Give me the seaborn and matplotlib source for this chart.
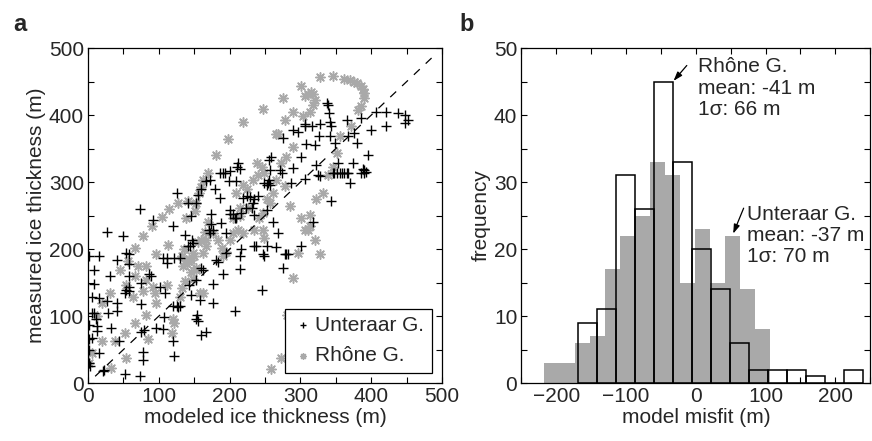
import numpy as np
import pandas as pd
import matplotlib
matplotlib.use('Agg')
import matplotlib.pyplot as plt
from matplotlib.ticker import MultipleLocator
import seaborn as sns

sns.set_style('white')
plt.rcParams['font.family'] = ['Liberation Sans', 'DejaVu Sans']
plt.rcParams['font.size'] = 15

# --- panel a: measured vs modeled ice thickness ---
unter_x = [2, 16, 9, 8, 6, 6, 8, 11, 2, 2, 5, 13, 12, 1, 2, 3, 16, 21, 23,
           16, 27, 27, 31, 28, 32, 41, 41, 41, 49, 53, 58, 58, 58, 58, 54, 58, 52,
           44, 52, 73, 77, 77, 73, 86, 89, 92, 75, 75, 75, 79, 96, 106, 107, 108,
           101, 106, 111, 111, 120, 120, 122, 120, 125, 130, 127, 125, 122, 130,
           137, 141, 144, 145, 141, 153, 155, 148, 147, 142, 145, 153, 154, 155,
           153, 158, 160, 166, 160, 162, 160, 166, 172, 173, 173, 171, 172, 177,
           179, 177, 177, 181, 183, 186, 186, 188, 190, 195, 195, 191, 194, 199,
           200, 200, 204, 207, 209, 200, 207, 209, 212, 211, 214, 214, 214, 216,
           219, 216, 223, 224, 229, 231, 233, 234, 235, 235, 237, 240, 245, 247,
           249, 252, 248, 252, 254, 257, 256, 257, 256, 259, 252, 261, 266, 268,
           271, 275, 274, 278, 280, 283, 275, 286, 290, 290, 297, 301, 301, 306,
           306, 307, 308, 316, 318, 321, 322, 325, 327, 326, 328, 337, 339, 340,
           341, 343, 341, 343, 346, 348, 349, 351, 353, 356, 358, 362, 365, 367,
           370, 367, 365, 376, 380, 374, 386, 388, 390, 390, 393, 386, 395, 400,
           407, 421, 421, 438, 447, 447, 452]
unter_y = [189, 190, 168, 148, 129, 104, 104, 95, 87, 65, 67, 85, 77, 50, 30, 26, 45, 18, 19,
           127, 123, 225, 159, 104, 82, 107, 119, 183, 220, 194, 193, 177, 159, 144, 139, 137, 134,
           62, 14, 11, 47, 35, 260, 163, 160, 244, 149, 118, 76, 79, 82, 80, 99, 134,
           143, 187, 179, 187, 234, 62, 40, 115, 115, 115, 114, 284, 186, 186,
           221, 204, 204, 249, 268, 268, 281, 209, 213, 147, 132, 154, 102, 92,
           95, 124, 71, 76, 172, 168, 289, 301, 303, 252, 237, 229, 224, 229,
           289, 119, 148, 184, 181, 276, 313, 239, 162, 224, 194, 313, 313, 301,
           259, 252, 252, 246, 247, 317, 107, 301, 329, 323, 319, 189, 170, 200,
           276, 254, 261, 279, 278, 261, 269, 251, 274, 204, 205, 279, 139, 192,
           189, 204, 298, 295, 298, 295, 303, 318, 333, 338, 259, 241, 203, 224,
           318, 366, 313, 192, 192, 192, 172, 298, 321, 378, 374, 204, 338, 383,
           386, 304, 357, 383, 241, 356, 326, 311, 309, 368, 387, 418, 415, 403,
           389, 383, 368, 271, 313, 313, 358, 313, 328, 313, 313, 313, 313, 313,
           298, 368, 393, 373, 358, 328, 313, 320, 318, 313, 315, 396, 341, 378,
           405, 405, 383, 403, 400, 388, 393]

rhone_x = [327, 346, 361, 370, 375, 380, 385, 388, 389, 389, 386, 381, 301, 306, 311,
           315, 318, 320, 318, 313, 304, 275, 247, 290, 278, 268, 219, 197, 180, 170,
           163, 160, 157, 153, 151, 141, 139, 127, 115, 104, 90, 78, 66, 56, 45, 31,
           20, 12, 2, 6, 20, 33, 53, 52, 38, 66, 82, 85, 96, 94, 92, 82, 82, 78, 64,
           54, 66, 71, 96, 111, 113, 120, 122, 118, 132, 134, 137, 132, 130, 139,
           146, 148, 153, 158, 162, 163, 167, 160, 167, 177, 183, 191, 189, 195,
           200, 205, 212, 219, 205, 214, 214, 209, 219, 224, 226, 233, 240, 238,
           245, 249, 252, 247, 247, 257, 249, 235, 242, 261, 266, 273, 278, 285,
           290, 280, 266, 290, 281, 273, 259, 297, 301, 306, 311, 313, 320, 327,
           313, 322, 332, 339, 346, 351, 356, 372, 140, 145, 150, 135, 143, 155,
           148, 152, 165, 170]
rhone_y = [457, 459, 454, 453, 450, 448, 444, 439, 433, 425, 413, 408, 444, 428, 432,
           434, 431, 423, 415, 405, 398, 425, 409, 405, 393, 371, 389, 364, 341, 314,
           303, 293, 283, 268, 257, 272, 246, 269, 260, 248, 234, 220, 201, 182, 169, 134,
           120, 100, 30, 45, 62, 22, 37, 75, 62, 90, 102, 66, 119, 134, 144, 174, 154, 137, 129,
           147, 159, 174, 192, 147, 206, 95, 90, 75, 189, 174, 152, 142, 129, 184,
           184, 194, 169, 134, 134, 194, 204, 214, 214, 224, 214, 189, 201, 196,
           214, 224, 229, 224, 246, 249, 261, 284, 296, 289, 261, 303, 311, 328,
           323, 313, 274, 254, 229, 269, 216, 229, 246, 284, 303, 328, 294, 264,
           353, 338, 371, 157, 102, 37, 21, 194, 246, 229, 229, 234, 214, 192,
           251, 274, 284, 311, 323, 343, 368, 383, 178, 165, 190, 200, 185, 210,
           155, 172, 225, 240]

# --- panel b: misfit histograms (counts per bin) ---
rhone_edges = np.linspace(-169, 239, 16)
rhone_counts = [9, 11, 31, 26, 45, 33, 20, 14, 6, 2, 2, 2, 1, 0, 2]
unter_edges = np.linspace(-217, 106, 16)
unter_counts = [3, 3, 6, 7, 17, 22, 25, 33, 31, 15, 23, 15, 22, 14, 8]

df_u = pd.DataFrame({'x': unter_x, 'y': unter_y})
df_r = pd.DataFrame({'x': rhone_x, 'y': rhone_y})
df_hu = pd.DataFrame({'mid': (unter_edges[:-1] + unter_edges[1:]) / 2, 'n': unter_counts})
df_hr = pd.DataFrame({'mid': (rhone_edges[:-1] + rhone_edges[1:]) / 2, 'n': rhone_counts})

fig = plt.figure(figsize=(8.72, 4.41), dpi=100)
ax1 = fig.add_axes([0.101, 0.1315, 0.406, 0.7595])
ax2 = fig.add_axes([0.598, 0.1315, 0.400, 0.7595])

gray = '#a9a9a9'

# scatter
sns.scatterplot(data=df_u, x='x', y='y', marker='+', color='k', s=50,
                linewidth=1.0, label='Unteraar G.', ax=ax1, zorder=3)
sns.scatterplot(data=df_r, x='x', y='y', marker=(8, 2, 0), color=gray, s=45,
                linewidth=1.1, label='Rhône G.', ax=ax1, zorder=2)
ax1.plot([10, 490], [10, 490], color='k', lw=0.9, dashes=(6.5, 6.5), zorder=4)
ax1.set_xlim(0, 500)
ax1.set_ylim(0, 500)
ax1.set_xlabel('modeled ice thickness (m)', labelpad=1)
ax1.set_ylabel('measured ice thickness (m)', labelpad=2)
leg = ax1.legend(loc='lower right', fancybox=False, framealpha=1, edgecolor='k',
                 markerscale=0.6, handletextpad=0.1, borderpad=0.35,
                 labelspacing=0.55, borderaxespad=0.5, handlelength=1.0,
                 fontsize=15)
leg.get_frame().set_linewidth(0.9)

# histograms
sns.histplot(data=df_hu, x='mid', weights='n', bins=list(unter_edges), color=gray,
             alpha=1, linewidth=0, element='bars', ax=ax2)
sns.histplot(data=df_hr, x='mid', weights='n', bins=list(rhone_edges), fill=False,
             color='k', linewidth=1.1, element='bars', ax=ax2)
ax2.set_xlim(-250, 250)
ax2.set_ylim(0, 50)
ax2.set_xlabel('model misfit (m)', labelpad=1)
ax2.set_ylabel('frequency', labelpad=2)

arrow = dict(arrowstyle='-|>,head_length=0.45,head_width=0.15', color='k',
             lw=0.9, shrinkA=0, shrinkB=0, mutation_scale=12)
ax2.text(3, 48.6, 'Rhône G.\nmean: -41 m\n1σ: 66 m', va='top', ha='left',
         fontsize=15, linespacing=1.15)
ax2.annotate('', xy=(-32, 45.1), xytext=(-13, 47.4), arrowprops=arrow)
ax2.text(73, 26.6, 'Unteraar G.\nmean: -37 m\n1σ: 70 m', va='top', ha='left',
         fontsize=15, linespacing=1.15, clip_on=False)
ax2.annotate('', xy=(53.5, 22.3), xytext=(68.5, 26.1), arrowprops=arrow)

for ax, xmaj, ymaj in [(ax1, 100, 100), (ax2, 100, 10)]:
    ax.xaxis.set_major_locator(MultipleLocator(xmaj))
    ax.xaxis.set_minor_locator(MultipleLocator(xmaj / 2))
    ax.yaxis.set_major_locator(MultipleLocator(ymaj))
    ax.yaxis.set_minor_locator(MultipleLocator(ymaj / 2))
    ax.tick_params(which='both', direction='in', top=True, right=True,
                   bottom=True, left=True, color='k', width=0.8)
    ax.tick_params(which='major', length=4, labelsize=15, pad=3)
    ax.tick_params(which='minor', length=4)
    for s in ax.spines.values():
        s.set_color('k')
        s.set_linewidth(0.9)

fig.text(0.015, 0.93, 'a', fontsize=17, fontweight='bold')
fig.text(0.527, 0.93, 'b', fontsize=17, fontweight='bold')

fig.savefig('out.png', dpi=100)
